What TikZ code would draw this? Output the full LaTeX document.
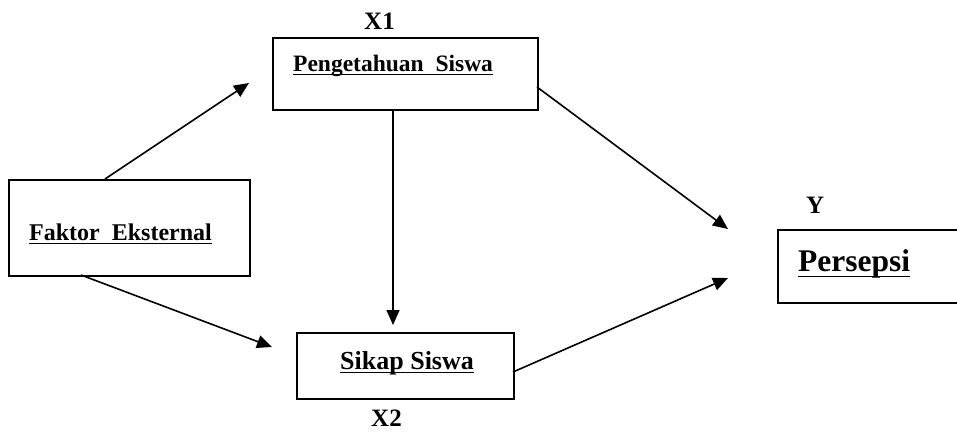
\documentclass[tikz,border=0pt]{standalone}
\usepackage{fontspec}
\setmainfont{Liberation Serif}
\usetikzlibrary{arrows.meta}
\tikzset{
  box/.style={draw=black, line width=1.8pt, inner sep=0pt, anchor=north west},
  lbl/.style={inner sep=0pt, anchor=base west, font=\bfseries},
  arr/.style={line width=1.6pt, -{Triangle[length=15pt,width=13pt]}},
  uln/.style={line width=1.9pt}
}
\newcommand{\ulbelow}[2]{\draw[uln] ([yshift=-#2]#1.base west) -- ([yshift=-#2]#1.base east);}
\begin{document}
\begin{tikzpicture}[x=1pt,y=-1pt]
\useasboundingbox (0,0) rectangle (957,431);
\clip (0,0) rectangle (957,431);
% boxes
\node[box, minimum width=241pt, minimum height=96pt] (fe) at (8,179) {};
\node[box, minimum width=265pt, minimum height=72pt] (pg) at (272,37) {};
\node[box, minimum width=217pt, minimum height=66pt] (sk) at (296,332) {};
\node[box, minimum width=230pt, minimum height=73pt] (ps) at (777,229) {};
% texts
\node[lbl, font=\bfseries\fontsize{24}{26}\selectfont] (tfe) at (29,240) {Faktor\ \ Eksternal};
\ulbelow{tfe}{3.5pt}
\node[lbl, font=\bfseries\fontsize{23.5}{26}\selectfont] (tpg) at (293,71) {Pengetahuan\ \ Siswa};
\ulbelow{tpg}{3.5pt}
\node[lbl, font=\bfseries\fontsize{26}{29}\selectfont] (tsk) at (340,369) {Sikap Siswa};
\ulbelow{tsk}{3.5pt}
\node[lbl, font=\bfseries\fontsize{31.5}{34}\selectfont] (tps) at (798,271) {Persepsi};
\ulbelow{tps}{5.5pt}
\node[lbl, font=\bfseries\fontsize{25}{28}\selectfont] (x1) at (364,29) {X1};
\node[lbl, font=\bfseries\fontsize{25}{28}\selectfont] (x2) at (371,426) {X2};
\node[lbl, font=\bfseries\fontsize{25}{28}\selectfont] (y) at (806,213) {Y};
% connector end points
\coordinate (a1s) at (105,179);
\coordinate (a1e) at (249,83);
\coordinate (a2s) at (81,275);
\coordinate (a2e) at (272,347);
\coordinate (a3s) at (393,109);
\coordinate (a3e) at (393,325);
\coordinate (a4s) at (537,87);
\coordinate (a4e) at (728,229);
\coordinate (a5s) at (513,372);
\coordinate (a5e) at (728,278);
\draw[arr] (a1s) -- (a1e);
\draw[arr] (a2s) -- (a2e);
\draw[arr] (a3s) -- (a3e);
\draw[arr] (a4s) -- (a4e);
\draw[arr] (a5s) -- (a5e);
\end{tikzpicture}
\end{document}
